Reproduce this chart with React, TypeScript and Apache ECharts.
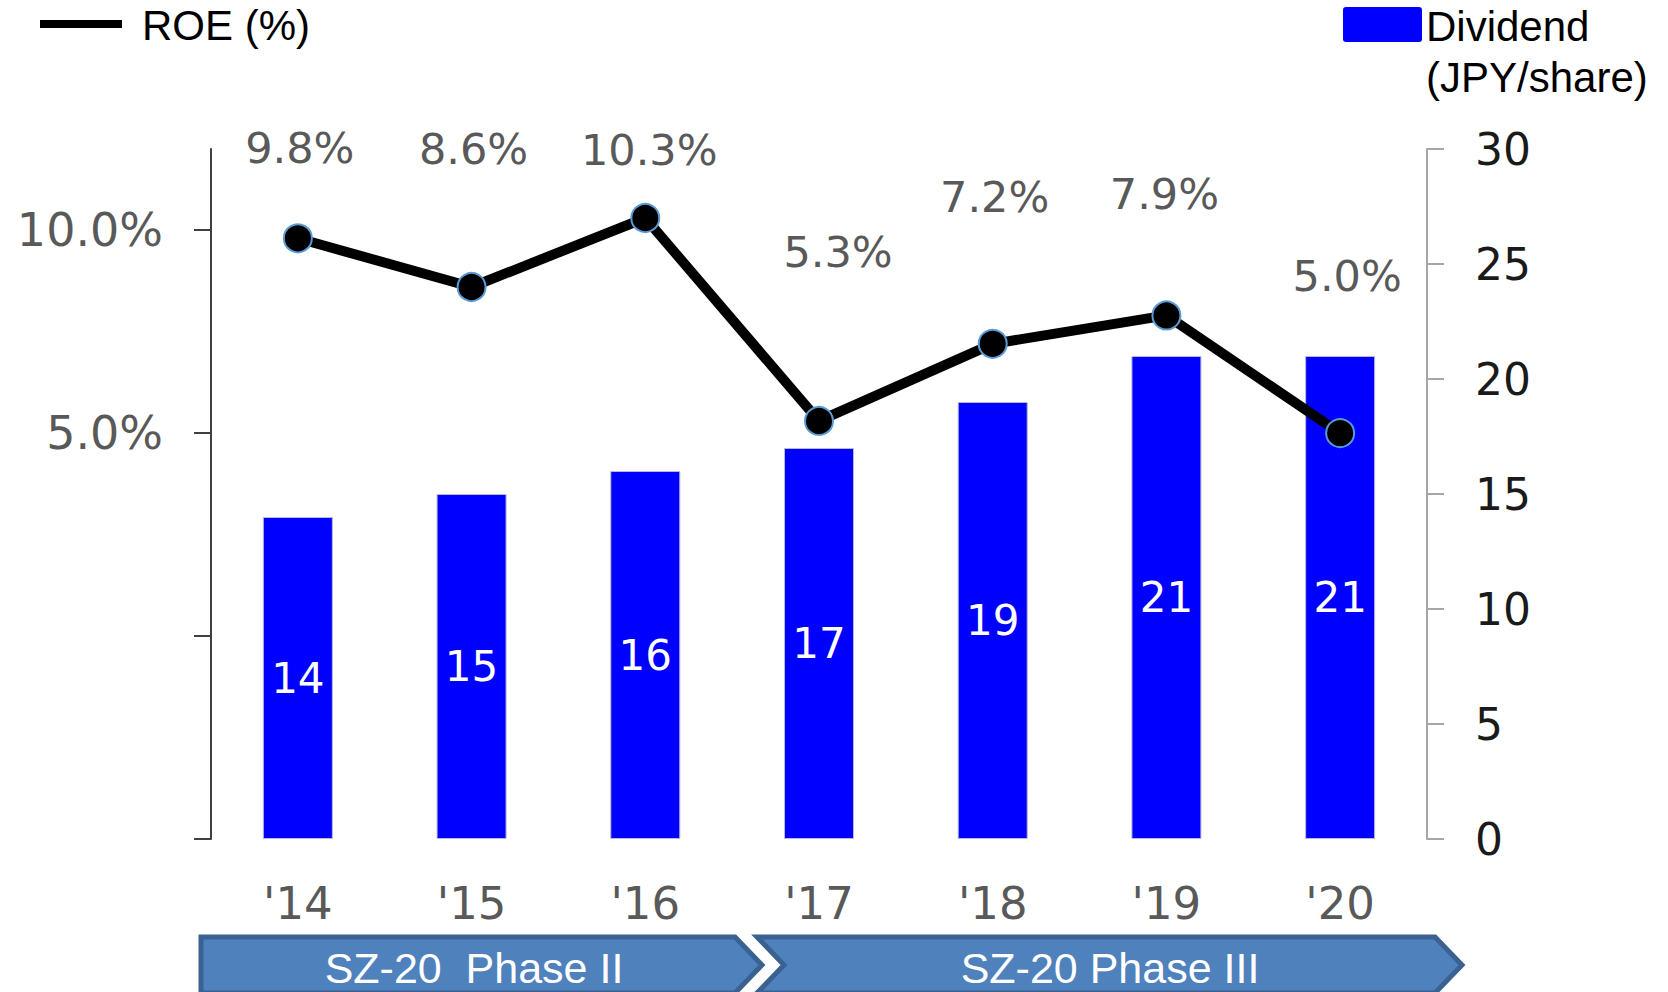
import React, { useEffect, useRef } from "react";
import * as echarts from "echarts";

const categories = ["'14", "'15", "'16", "'17", "'18", "'19", "'20"];
const dividend = [14, 15, 16, 17, 19, 21, 21];
const roe = [9.8, 8.6, 10.3, 5.3, 7.2, 7.9, 5.0];
const roeTickValues = [-5, 0, 5, 10];
const roeLabelValues = [5, 10];
const phases = ["SZ-20  Phase II", "SZ-20 Phase III"];
const legendRoe = "ROE (%)";
const legendDivLines = ["Dividend", "(JPY/share)"];

// label placement (pixels) for ROE data labels
const roeLabelLift = [90, 138, 68, 169, 147, 121, 157];
const roeLabelShift = [2, 2, 4, 19, 2, -2, 7];

const VERDANA = "'DejaVu Sans', Verdana, sans-serif";
const ARIAL = "'Liberation Sans', Arial, sans-serif";

export default function App() {
  const ref = useRef<HTMLDivElement>(null);
  useEffect(() => {
    if (!ref.current) return;
    const chart = echarts.init(ref.current, undefined, { renderer: "svg" });
    const option: any = {
      animation: false,
      backgroundColor: "#ffffff",
      grid: { left: 211, right: 241, top: 149, bottom: 153, containLabel: false },
      xAxis: {
        type: "category",
        data: categories,
        boundaryGap: true,
        axisLine: { show: false },
        axisTick: { show: false },
        axisLabel: { color: "#595959", fontFamily: VERDANA, fontSize: 45, margin: 42 },
      },
      yAxis: [
        {
          type: "value",
          min: -5,
          max: 12,
          interval: 5,
          position: "left",
          splitLine: { show: false },
          axisLine: { show: true, lineStyle: { color: "#404040", width: 2 } },
          axisTick: {
            show: true,
            length: 17,
            customValues: roeTickValues,
            lineStyle: { color: "#404040", width: 2 },
          },
          axisLabel: {
            customValues: roeLabelValues,
            formatter: (v: number) => v.toFixed(1) + "%",
            color: "#595959",
            fontFamily: VERDANA,
            fontSize: 46,
            margin: 48,
          },
        },
        {
          type: "value",
          min: 0,
          max: 30,
          interval: 5,
          position: "right",
          splitLine: { show: false },
          axisLine: { show: true, lineStyle: { color: "#A6A6A6", width: 2 } },
          axisTick: { show: true, length: 17, lineStyle: { color: "#A6A6A6", width: 2 } },
          axisLabel: { color: "#1a1a1a", fontFamily: VERDANA, fontSize: 44, margin: 48 },
        },
      ],
      series: [
        {
          name: "Dividend (JPY/share)",
          type: "bar",
          yAxisIndex: 1,
          data: dividend,
          barWidth: 70,
          itemStyle: { color: "#0000FF", borderColor: "#b8b8d8", borderWidth: 1 },
          label: {
            show: true,
            position: "inside",
            color: "#ffffff",
            fontFamily: VERDANA,
            fontSize: 42,
          },
          z: 2,
        },
        {
          name: "ROE (%)",
          type: "line",
          yAxisIndex: 0,
          data: roe.map((v, i) => ({
            value: v,
            label: { offset: [roeLabelShift[i], -roeLabelLift[i]] },
          })),
          lineStyle: { color: "#000000", width: 10 },
          symbol: "circle",
          symbolSize: 28,
          itemStyle: { color: "#000000", borderColor: "#5B9BD5", borderWidth: 2 },
          label: {
            show: true,
            position: "inside",
            formatter: (p: any) => Number(p.value).toFixed(1) + "%",
            color: "#595959",
            fontFamily: VERDANA,
            fontSize: 43,
          },
          z: 5,
        },
      ],
      graphic: [
        { type: "line", shape: { x1: 40, y1: 24, x2: 122, y2: 24 }, style: { stroke: "#000", lineWidth: 8 } },
        {
          type: "text",
          x: 142,
          y: 25,
          style: { text: legendRoe, fill: "#000", font: `42px ${ARIAL}`, verticalAlign: "middle", align: "left" },
        },
        { type: "rect", shape: { x: 1343, y: 7, width: 79, height: 35, r: 3 }, style: { fill: "#0000FF" } },
        {
          type: "text",
          x: 1426,
          y: 26,
          style: { text: legendDivLines[0], fill: "#000", font: `42px ${ARIAL}`, verticalAlign: "middle", align: "left" },
        },
        {
          type: "text",
          x: 1426,
          y: 77,
          style: { text: legendDivLines[1], fill: "#000", font: `42px ${ARIAL}`, verticalAlign: "middle", align: "left" },
        },
        {
          type: "polygon",
          shape: { points: [[201, 937], [735, 937], [762, 965], [735, 993], [201, 993]] },
          style: { fill: "#4F81BD", stroke: "#3A6190", lineWidth: 5 },
        },
        {
          type: "polygon",
          shape: { points: [[757, 937], [1435, 937], [1462, 965], [1435, 993], [757, 993], [784, 965]] },
          style: { fill: "#4F81BD", stroke: "#3A6190", lineWidth: 5 },
        },
        {
          type: "text",
          x: 474,
          y: 968,
          style: { text: phases[0], fill: "#fff", font: `43px ${ARIAL}`, verticalAlign: "middle", align: "center" },
        },
        {
          type: "text",
          x: 1110,
          y: 968,
          style: { text: phases[1], fill: "#fff", font: `43px ${ARIAL}`, verticalAlign: "middle", align: "center" },
        },
      ],
    };
    chart.setOption(option);
    return () => chart.dispose();
  }, []);
  return (
    <div
      ref={ref}
      style={{ position: "absolute", left: 0, top: 0, width: 1668, height: 992 }}
    />
  );
}
